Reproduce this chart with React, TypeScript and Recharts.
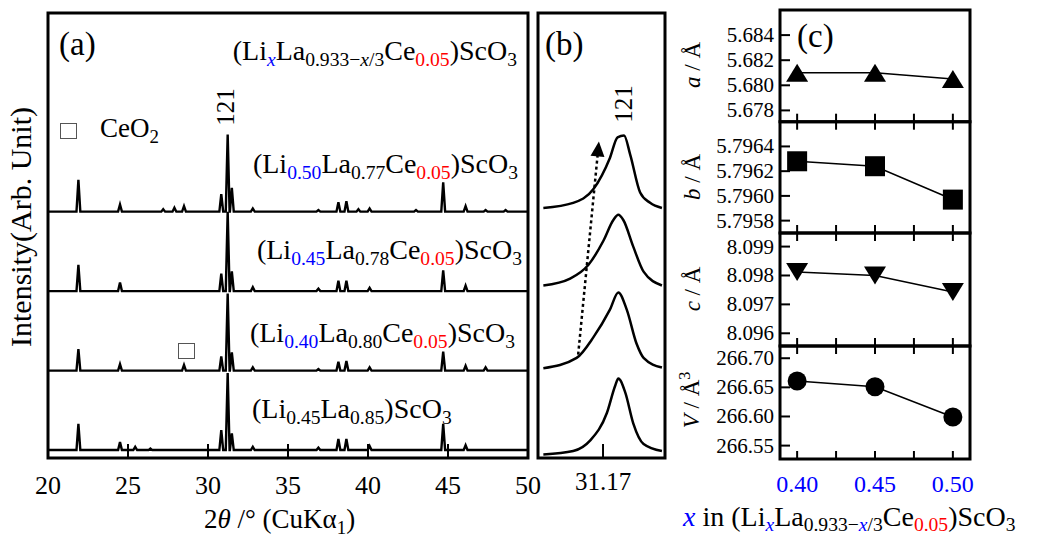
import React from "react";
import { LineChart, Line, XAxis, YAxis, ReferenceArea } from "recharts";

const W = 1057;
const H = 539;
const SERIF = "'Liberation Serif', 'DejaVu Serif', 'Noto Serif', 'Times New Roman', Times, serif";
const BLUE = "#0000ff";
const RED = "#ff0000";

// (a) XRD: peak positions (2theta) and heights per sample (main 121 peak ~ 1)
const peakPos = [21.9, 24.5, 25.45, 26.4, 27.2, 27.9, 28.5, 30.83, 31.23, 31.49, 32.8, 36.9, 38.15, 38.65, 39.4, 40.1, 43.0, 44.7, 46.1, 47.35, 48.6];
const hLi050 = [0.4, 0.09, 0, 0, 0.03, 0.05, 0.07, 0.22, 0.97, 0.3, 0.04, 0.02, 0.12, 0.13, 0.03, 0.04, 0.02, 0.37, 0.07, 0.02, 0.02];
const hLi045 = [0.33, 0.11, 0, 0, 0, 0, 0, 0.22, 1.0, 0.25, 0.05, 0.03, 0.13, 0.13, 0, 0.04, 0, 0.26, 0.07, 0, 0];
const hLi040 = [0.27, 0.08, 0, 0, 0, 0, 0.07, 0.18, 0.97, 0.23, 0.04, 0.02, 0.11, 0.12, 0, 0.04, 0, 0.24, 0.06, 0.04, 0];
const hNoCe = [0.33, 0.1, 0.04, 0.02, 0, 0, 0, 0.25, 0.97, 0.21, 0.04, 0.03, 0.14, 0.14, 0, 0.05, 0, 0.33, 0.06, 0, 0];
const offsets = [3.1, 2.1, 1.1, 0.1];
const xTicksA = [20, 25, 30, 35, 40, 45, 50];

// (b) close-up of the 121 reflection
const bLi050 = [[31.014, 3.147], [31.092, 3.211], [31.145, 3.385], [31.188, 3.776], [31.208, 4.036], [31.225, 4.058], [31.241, 3.819], [31.267, 3.342], [31.293, 3.211], [31.324, 3.147]];
const bLi045 = [[31.014, 2.171], [31.084, 2.258], [31.132, 2.432], [31.171, 2.734], [31.197, 2.995], [31.21, 3.06], [31.223, 2.995], [31.249, 2.66], [31.276, 2.345], [31.324, 2.171]];
const bLi040 = [[31.014, 1.13], [31.101, 1.26], [31.145, 1.521], [31.188, 1.867], [31.21, 2.084], [31.232, 1.867], [31.258, 1.434], [31.276, 1.26], [31.324, 1.138]];
const bNoCe = [[31.014, 0.045], [31.092, 0.088], [31.136, 0.219], [31.18, 0.566], [31.202, 0.913], [31.21, 1.0], [31.228, 0.826], [31.249, 0.436], [31.276, 0.176], [31.324, 0.088]];
const bArrow = [[31.105, 1.3], [31.157, 3.87]];
const xTicksB = [31.17];

// (c) lattice parameters vs x
const xLi = [0.4, 0.45, 0.5];
const aVals = [5.681, 5.681, 5.6805];
const bVals = [5.79628, 5.79624, 5.79597];
const cVals = [8.09812, 8.098, 8.09743];
const vVals = [266.661, 266.651, 266.599];
const xTicksC = [0.4, 0.425, 0.45, 0.475, 0.5];
const xLabelsC = [0.4, 0.45, 0.5];

const PW = 0.12;
const buildTrace = (heights: number[], off: number) => {
  const pts = [{ x: 20, y: off }];
  peakPos.forEach((p, i) => {
    if (!heights[i]) return;
    pts.push({ x: p - PW, y: off }, { x: p, y: off + heights[i] }, { x: p + PW, y: off });
  });
  pts.push({ x: 50, y: off });
  return pts;
};
const toPts = (arr: number[][]) => arr.map(([x, y]) => ({ x, y }));
const toC = (vals: number[]) => xLi.map((x, i) => ({ x, y: vals[i] }));

const TickX = ({ x, y, payload, up, down, label, dy, size, color, fmt }: any) => (
  <g>
    <line x1={x} x2={x} y1={y + (down || 0)} y2={y - up} stroke="#000" strokeWidth={2} />
    {label && (!Array.isArray(label) || label.includes(payload.value)) && (
      <text x={x} y={y + dy} textAnchor="middle" dominantBaseline="central" fontFamily={SERIF} fontSize={size} fill={color || "#000"}>
        {fmt ? fmt(payload.value) : payload.value}
      </text>
    )}
  </g>
);

const TickY = ({ x, y, payload, fmt }: any) => (
  <g>
    <line x1={x} x2={x + 10} y1={y} y2={y} stroke="#000" strokeWidth={2} />
    <text x={x - 6} y={y} textAnchor="end" dominantBaseline="central" fontFamily={SERIF} fontSize={21} fill="#000">
      {fmt(payload.value)}
    </text>
  </g>
);

const Marker = ({ cx, cy, shape }: any) => {
  if (cx == null || cy == null) return <g />;
  if (shape === "up") return <polygon points={`${cx},${cy - 9} ${cx + 11},${cy + 9} ${cx - 11},${cy + 9}`} fill="#000" />;
  if (shape === "down") return <polygon points={`${cx},${cy + 9} ${cx + 11},${cy - 9} ${cx - 11},${cy - 9}`} fill="#000" />;
  if (shape === "sq") return <rect x={cx - 10} y={cy - 10} width={20} height={20} fill="#000" />;
  return <circle cx={cx} cy={cy} r={9.5} fill="#000" />;
};

const ArrowHead = ({ cx, cy, index }: any) => {
  if (index !== 1 || cx == null) return <g key={index} />;
  return (
    <polygon
      key={index}
      points={`${cx},${cy - 9} ${cx + 7},${cy + 6} ${cx - 7},${cy + 6}`}
      fill="#000"
      transform={`rotate(5.4 ${cx} ${cy})`}
    />
  );
};

const Abs = ({ children }: any) => <div style={{ position: "absolute", left: 0, top: 0 }}>{children}</div>;

const PanelA = () => (
  <Abs>
    <LineChart width={W} height={H} margin={{ top: 13, left: 48, right: W - 528, bottom: H - 458 - 20 }}>
      <XAxis
        type="number"
        dataKey="x"
        domain={[20, 50]}
        ticks={xTicksA}
        height={20}
        axisLine={false}
        tickLine={false}
        tickSize={0}
        tickMargin={0}
        interval={0}
        tick={(p: any) => <TickX {...p} up={14} label dy={27} size={26} />}
      />
      <YAxis type="number" domain={[0, 5.6]} hide />
      <ReferenceArea x1={20} x2={50} y1={0} y2={5.6} fill="none" stroke="#000" strokeWidth={3} />
      {[hLi050, hLi045, hLi040, hNoCe].map((h, i) => (
        <Line key={i} data={buildTrace(h, offsets[i])} dataKey="y" type="linear" stroke="#000" strokeWidth={2.4} dot={false} isAnimationActive={false} />
      ))}
    </LineChart>
  </Abs>
);

const PanelB = () => (
  <Abs>
    <LineChart width={W} height={H} margin={{ top: 13, left: 538, right: W - 665, bottom: H - 458 - 20 }}>
      <XAxis
        type="number"
        dataKey="x"
        domain={[31.0, 31.332]}
        ticks={xTicksB}
        height={20}
        axisLine={false}
        tickLine={false}
        tickSize={0}
        tickMargin={0}
        tick={(p: any) => <TickX {...p} up={14} label dy={23} size={25} fmt={(v: number) => v.toFixed(2)} />}
      />
      <YAxis type="number" domain={[0, 5.6]} hide />
      <ReferenceArea x1={31.0} x2={31.332} y1={0} y2={5.6} fill="none" stroke="#000" strokeWidth={3} />
      {[bLi050, bLi045, bLi040, bNoCe].map((d, i) => (
        <Line key={i} data={toPts(d)} dataKey="y" type="monotone" stroke="#000" strokeWidth={2.5} dot={false} isAnimationActive={false} />
      ))}
      <Line data={toPts(bArrow)} dataKey="y" type="linear" stroke="#000" strokeWidth={2.5} strokeDasharray="3 3" dot={(p: any) => <ArrowHead key={p.index} {...p} />} isAnimationActive={false} />
    </LineChart>
  </Abs>
);

const CSub = ({ top, bottom, vals, domain, ticks, fmt, shape, last }: any) => (
  <Abs>
    <LineChart width={W} height={H} margin={{ top, left: 780 - 60, right: W - 970, bottom: H - bottom - 20 }}>
      <XAxis
        type="number"
        dataKey="x"
        domain={[0.389, 0.511]}
        ticks={xTicksC}
        height={20}
        axisLine={false}
        tickLine={false}
        tickSize={0}
        tickMargin={0}
        interval={0}
        tick={(p: any) => (
          <TickX {...p} up={8} down={last ? 0 : 8} label={last ? xLabelsC : false} dy={25} size={24} color={BLUE} fmt={(v: number) => v.toFixed(2)} />
        )}
      />
      <YAxis
        type="number"
        domain={domain}
        ticks={ticks}
        width={60}
        axisLine={false}
        tickLine={false}
        tickSize={0}
        tickMargin={0}
        interval={0}
        allowDataOverflow
        tick={(p: any) => <TickY {...p} fmt={fmt} />}
      />
      <ReferenceArea x1={0.389} x2={0.511} y1={domain[0]} y2={domain[1]} fill="none" stroke="#000" strokeWidth={3} />
      <Line
        data={toC(vals)}
        dataKey="y"
        type="linear"
        stroke="#000"
        strokeWidth={1.6}
        dot={(p: any) => <Marker key={p.index} cx={p.cx} cy={p.cy} shape={shape} />}
        isAnimationActive={false}
      />
    </LineChart>
  </Abs>
);

const Sub = ({ children, color, italic, shift = "0.3em" }: any) => (
  <span style={{ fontSize: "0.7em", position: "relative", top: shift, color, fontStyle: italic ? "italic" : undefined }}>{children}</span>
);

const Txt = ({ left, right, top, size, children, style }: any) => (
  <div style={{ position: "absolute", left, right, top, fontSize: size, fontFamily: SERIF, lineHeight: 1, whiteSpace: "nowrap", color: "#000", ...style }}>
    {children}
  </div>
);

const Rot = ({ cx, cy, size, children }: any) => (
  <div
    style={{
      position: "absolute",
      left: cx,
      top: cy,
      transform: "translate(-50%, -50%) rotate(-90deg)",
      fontSize: size,
      fontFamily: SERIF,
      lineHeight: 1,
      whiteSpace: "nowrap",
      color: "#000",
    }}
  >
    {children}
  </div>
);

const Formula = ({ li, la, ce, liColor }: any) => (
  <>
    (Li<Sub color={liColor}>{li}</Sub>La<Sub>{la}</Sub>
    {ce ? (
      <>
        Ce<Sub color={RED}>{ce}</Sub>
      </>
    ) : null}
    )ScO<Sub>3</Sub>
  </>
);

const Box = ({ left, top }: any) => (
  <div style={{ position: "absolute", left, top, width: 15, height: 14, border: "1.5px solid #555" }} />
);

export default function App() {
  return (
    <div style={{ position: "absolute", left: 0, top: 0, width: W, height: H, background: "#fff", overflow: "hidden" }}>
      <PanelA />
      <PanelB />
      <CSub top={10} bottom={121.7} vals={aVals} domain={[5.6771, 5.686]} ticks={[5.678, 5.68, 5.682, 5.684]} fmt={(v: number) => v.toFixed(3)} shape="up" />
      <CSub top={121.7} bottom={233} vals={bVals} domain={[5.7957, 5.7966]} ticks={[5.7958, 5.796, 5.7962, 5.7964]} fmt={(v: number) => v.toFixed(4)} shape="sq" />
      <CSub top={233} bottom={346} vals={cVals} domain={[8.09556, 8.09947]} ticks={[8.096, 8.097, 8.098, 8.099]} fmt={(v: number) => v.toFixed(3)} shape="down" />
      <CSub top={346} bottom={459} vals={vVals} domain={[266.527, 266.721]} ticks={[266.55, 266.6, 266.65, 266.7]} fmt={(v: number) => v.toFixed(2)} shape="circle" last />

      {/* panel (a) texts */}
      <Txt left={59} top={28} size={33}>(a)</Txt>
      <Txt right={W - 517} top={37} size={28}>
        (Li<Sub color={BLUE} italic>x</Sub>La<Sub>0.933−<i>x</i>/3</Sub>Ce<Sub color={RED}>0.05</Sub>)ScO<Sub>3</Sub>
      </Txt>
      <Box left={60} top={123} />
      <Txt left={100} top={115} size={27}>
        CeO<Sub>2</Sub>
      </Txt>
      <Rot cx={225} cy={107} size={25}>121</Rot>
      <Txt right={W - 518} top={150} size={28}>
        <Formula li="0.50" la="0.77" ce="0.05" liColor={BLUE} />
      </Txt>
      <Txt right={W - 522} top={236} size={28}>
        <Formula li="0.45" la="0.78" ce="0.05" liColor={BLUE} />
      </Txt>
      <Txt right={W - 515} top={319} size={28}>
        <Formula li="0.40" la="0.80" ce="0.05" liColor={BLUE} />
      </Txt>
      <Box left={178} top={343} />
      <Txt left={252} top={395} size={28}>
        <Formula li="0.45" la="0.85" />
      </Txt>
      <Rot cx={21} cy={227} size={30}>Intensity(Arb. Unit)</Rot>
      <Txt left={204} top={506} size={27}>
        2<i>θ</i> /° (CuKα<Sub>1</Sub>)
      </Txt>

      {/* panel (b) texts */}
      <Txt left={545} top={28} size={33}>(b)</Txt>
      <Rot cx={623} cy={104} size={25}>121</Rot>

      {/* panel (c) texts */}
      <Txt left={797} top={20} size={33}>(c)</Txt>
      <Rot cx={692} cy={65} size={23}>
        <i>a</i> / Å
      </Rot>
      <Rot cx={692} cy={177} size={23}>
        <i>b</i> / Å
      </Rot>
      <Rot cx={692} cy={289} size={23}>
        <i>c</i> / Å
      </Rot>
      <Rot cx={690} cy={400} size={23}>
        <i>V</i> / Å<sup style={{ fontSize: "0.7em" }}>3</sup>
      </Rot>
      <Txt left={683} top={503} size={28}>
        <i style={{ color: BLUE }}>x</i> in (Li<Sub color={BLUE} italic shift="0.25em">x</Sub>La<Sub shift="0.25em">0.933−<i style={{ color: BLUE }}>x</i>/3</Sub>Ce<Sub color={RED} shift="0.25em">0.05</Sub>)ScO<Sub shift="0.25em">3</Sub>
      </Txt>
    </div>
  );
}
